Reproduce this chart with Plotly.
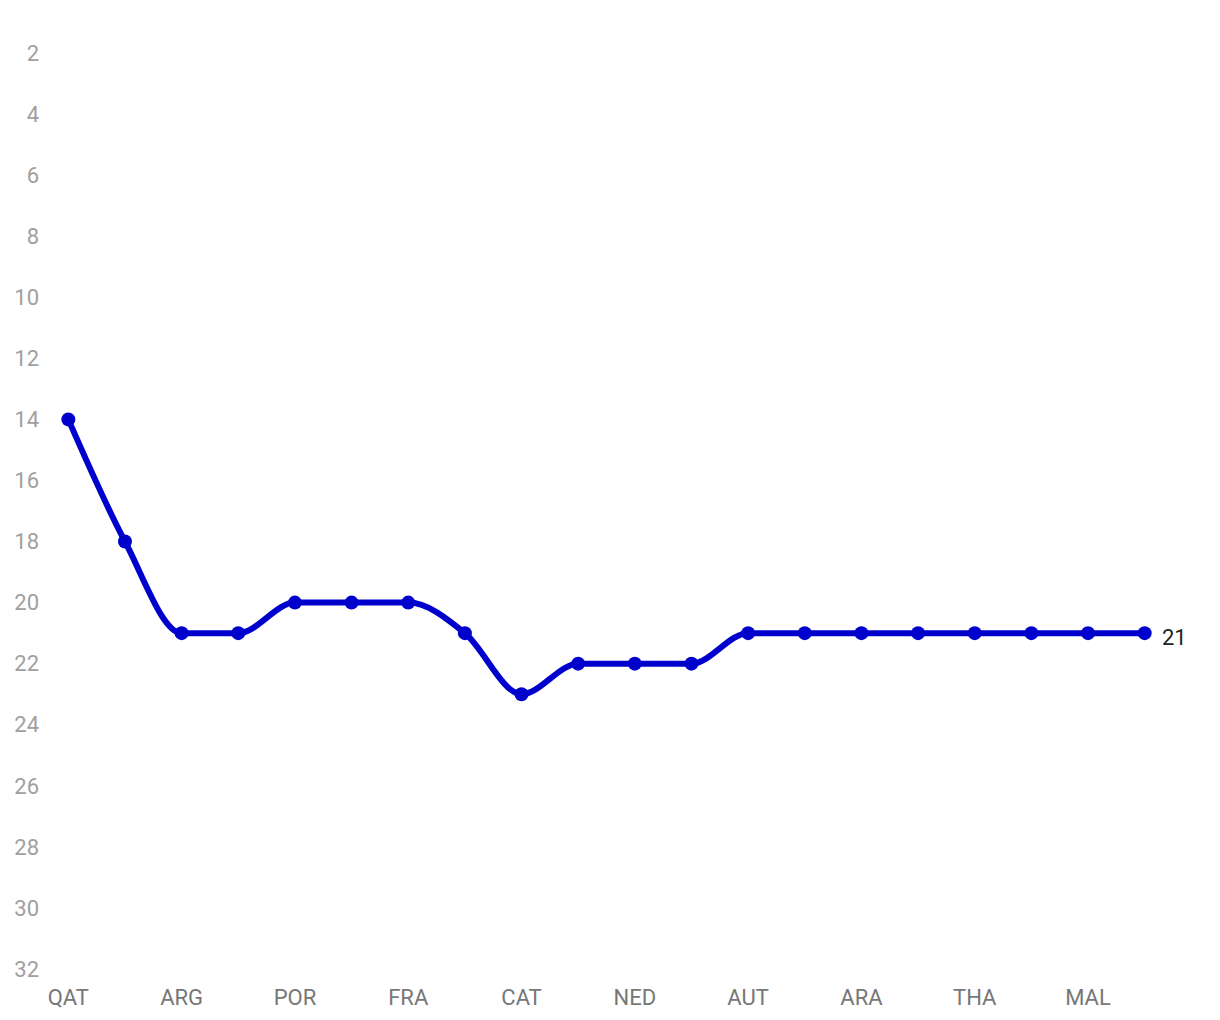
import plotly.graph_objects as go

rounds = ["QAT", "INA", "ARG", "AME", "POR", "SPA", "FRA", "ITA", "CAT", "GER",
          "NED", "GBR", "AUT", "RSM", "ARA", "JPN", "THA", "AUS", "MAL", "VAL"]
positions = [14, 18, 21, 21, 20, 20, 20, 21, 23, 22, 22, 22, 21, 21, 21, 21, 21, 21, 21, 21]
shown_labels = rounds[::2]
y_ticks = list(range(2, 33, 2))

LINE_COLOR = "#0000CD"
xs = list(range(len(rounds)))


def sign(v):
    return (v > 0) - (v < 0)


def monotone_path(x, y):
    """Monotone cubic (Fritsch-Carlson, as d3.curveMonotoneX) as an SVG path."""
    n = len(x)
    s = [(y[i + 1] - y[i]) / (x[i + 1] - x[i]) for i in range(n - 1)]
    m = [0.0] * n
    for i in range(1, n - 1):
        h0, h1 = x[i] - x[i - 1], x[i + 1] - x[i]
        p = (s[i - 1] * h1 + s[i] * h0) / (h0 + h1)
        m[i] = (sign(s[i - 1]) + sign(s[i])) * min(abs(s[i - 1]), abs(s[i]), 0.5 * abs(p))
    m[0] = (3 * s[0] - m[1]) / 2
    m[-1] = (3 * s[-1] - m[-2]) / 2
    d = f"M {x[0]},{y[0]}"
    for i in range(n - 1):
        dx = (x[i + 1] - x[i]) / 3
        d += (f" C {x[i] + dx},{y[i] + m[i] * dx} {x[i + 1] - dx},{y[i + 1] - m[i + 1] * dx}"
              f" {x[i + 1]},{y[i + 1]}")
    return d


fig = go.Figure()
fig.add_shape(type="path", path=monotone_path(xs, positions), xref="x", yref="y",
              line=dict(color=LINE_COLOR, width=6), layer="below")
fig.add_trace(go.Scatter(
    x=xs, y=positions, mode="markers",
    marker=dict(color=LINE_COLOR, size=14),
    hoverinfo="skip", showlegend=False,
))
fig.add_annotation(x=xs[-1], y=positions[-1], text=str(positions[-1]),
                   showarrow=False, xanchor="left", xshift=15, yshift=-4,
                   font=dict(family="Roboto", size=22, color="#222222"))

fig.update_layout(
    width=1220, height=1020,
    margin=dict(l=32, r=55, t=45, b=59),
    paper_bgcolor="white", plot_bgcolor="white",
    font=dict(family="Roboto"),
    xaxis=dict(range=[-0.5, 19.5], tickmode="array",
               tickvals=xs[::2], ticktext=shown_labels, automargin=False,
               showgrid=False, zeroline=False, showline=False,
               ticks="outside", ticklen=9, tickcolor="rgba(0,0,0,0)",
               tickfont=dict(family="Roboto", size=22, color="#777777")),
    yaxis=dict(range=[32, 2], tickmode="array", tickvals=y_ticks, automargin=False,
               showgrid=False, zeroline=False, showline=False, ticks="",
               ticksuffix="\u00a0",
               tickfont=dict(family="Roboto", size=22, color="#A0A0A0")),
)
fig.write_html("out.html")
